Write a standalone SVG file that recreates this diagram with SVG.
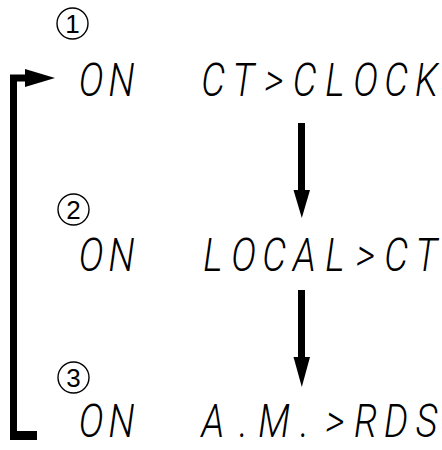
<svg xmlns="http://www.w3.org/2000/svg" width="442" height="450" viewBox="0 0 442 450">
<style>
.lcd{font-family:Roboto,"Liberation Sans",sans-serif;font-style:italic;font-weight:300;font-size:47px;fill:#000;text-anchor:middle}
.num{font-family:"Liberation Sans",Arial,sans-serif;font-size:26px;fill:#000;text-anchor:middle}
.ring{fill:none;stroke:#000;stroke-width:1.4}
</style>
<rect width="442" height="450" fill="#fff"/>
<g id="connectors">
<rect x="10" y="75" width="7" height="365" fill="#000"/>
<rect x="10" y="431" width="27" height="9" fill="#000"/>
<rect x="10" y="74.5" width="18" height="7" fill="#000"/>
<polygon points="25,69 55,78 25,87" fill="#000"/>
<rect x="298" y="123" width="7" height="68" fill="#000"/>
<polygon points="293.5,190 310,190 301.8,218" fill="#000"/>
<rect x="298" y="290" width="7" height="68" fill="#000"/>
<polygon points="293.5,357 310,357 301.8,387" fill="#000"/>
</g>
<g id="step1">
<circle class="ring" cx="72.5" cy="23.5" r="15.5"/>
<text class="num" x="72.5" y="33">1</text>
<g transform="scale(0.8 1)">
<text class="lcd" x="113.75 151.875" y="96">ON</text>
<text class="lcd" x="266.25 304.375 342.5 380.625 418.75 456.875 495 533.125" y="96">CT&gt;CLOCK</text>
</g>
</g>
<g id="step2">
<circle class="ring" cx="73.5" cy="209.5" r="15.5"/>
<text class="num" x="73.5" y="219">2</text>
<g transform="scale(0.8 1)">
<text class="lcd" x="113.75 151.875" y="271">ON</text>
<text class="lcd" x="266.25 304.375 342.5 380.625 418.75 456.875 495 533.125" y="271">LOCAL&gt;CT</text>
</g>
</g>
<g id="step3">
<circle class="ring" cx="73.5" cy="377.5" r="15.5"/>
<text class="num" x="73.5" y="387">3</text>
<g transform="scale(0.8 1)">
<text class="lcd" x="113.75 151.875" y="437">ON</text>
<text class="lcd" x="266.25 304.375 342.5 380.625 418.75 456.875 495 533.125" y="437">A.M.&gt;RDS</text>
</g>
</g>
</svg>
